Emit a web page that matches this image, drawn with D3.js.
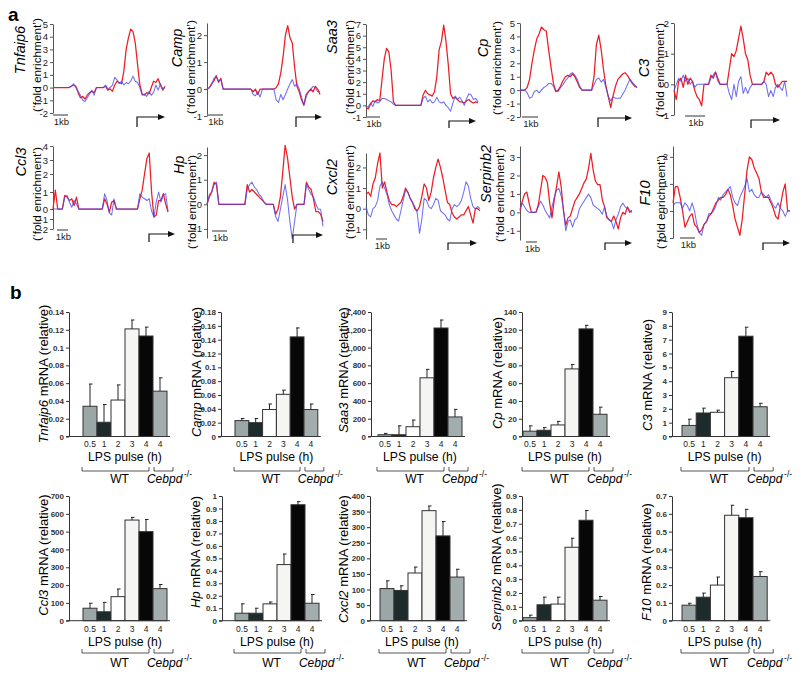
<!DOCTYPE html>
<html><head><meta charset="utf-8">
<script src="https://cdn.jsdelivr.net/npm/d3@7"></script>
<style>body{margin:0;background:#fff} svg{display:block;font-family:"Liberation Sans",Arial,sans-serif}</style>
</head><body>
<svg id="fig" width="800" height="675"></svg>
<script>
// ---------------- Panel a data: ChIP profiles (red = LPS, blue = control), evenly spaced along locus
const tnfaip6Red  = [0,0,0,0,0,0,0,0,0.1,0.2, 0.1,-0.4,-0.8,-0.7,-0.9,-0.6,-0.4,-0.3,-0.4,0, 0,0,0,0.1,-0.2,-0.1,-0.3,0.2,0.5,0.4, 0.3,1.3,3.0,3.9,4.6,4.4,3.5,1.8,0.2,-0.5, -0.6,-0.4,-0.5,0.0,0.5,0.4,0.7,0.2,-0.2,0.1];
const tnfaip6Blue = [0,0,0,0,0,0,0,0,0.1,0.3, 0.0,-0.3,-0.6,-1.0,-1.1,-0.8,-0.5,-0.2,-0.6,0, 0,0,0,0.2,-0.1,0.0,0.2,0.8,0.6,0.3, 0.5,0.2,0.4,0.3,0.5,0.9,0.5,0.4,0.0,-0.6, -0.5,-0.7,-0.3,-0.6,-0.4,0.2,-0.2,0.3,-0.1,0.0];
const campRed  = [0,0.05,0.2,0.3,0.5,0.25,0.4,0,0,0, 0,0,0,0,0,0,0,0,0,0, -0.1,0.0,-0.2,0.0,0,0,0,0,0,0, 0.05,0.2,0.6,1.2,2.0,2.35,1.9,1.7,0.8,0.1, -0.1,-0.4,-0.6,-0.2,-0.1,0.0,-0.1,0.1,0.0,-0.2];
const campBlue = [0,0.05,0.15,0.4,0.45,0.3,0.35,0,0,0, 0,0,0,0,0,0,0,0,0,0, -0.2,-0.25,-0.1,-0.3,0,0,0,0,0,0, -0.4,-0.5,-0.2,-0.4,-0.2,0.0,0.2,0.35,0.1,0.2, 0.0,-0.3,-0.6,-0.3,-0.1,0.0,0.1,0.05,-0.1,-0.1];
const saa3Red  = [-0.2,-0.3,0.1,0.4,0.3,0.5,0.4,2.2,4.0,4.9, 4.6,3.0,0.3,0,0,0,0,0,0,0, 0,0,0,0,0,0.9,1.3,1.0,0.9,0.8, 1.2,2.5,4.8,5.5,6.9,5.5,3.5,1.0,0.6,0.7, 0.5,0.3,0.3,0.2,0.4,0.5,0.3,0.2,0.3,0.2];
const saa3Blue = [-0.2,-0.1,0.2,-0.1,0.4,0.2,0.3,0.6,0.6,0.5, 0.4,0.3,0.1,0,0,0,0,0,0,0, 0,0,0,0,0,0.6,0.8,0.3,0.5,0.2, 0.3,0.7,0.3,0.2,0.3,0.0,-0.2,-0.5,0.2,0.8, 0.5,0.7,0.4,0.0,0.6,1.0,0.9,0.5,0.6,0.3];
const cpRed  = [0,0,0,0.2,0.8,2.0,3.0,3.8,4.2,4.7, 4.5,4.4,3.0,1.7,0.5,-0.1,0.0,0.3,0.7,1.0, 1.1,1.0,1.2,1.0,0.6,0.2,0,0,0,0, 0,1.0,3.4,4.1,3.0,1.5,0.3,-0.5,-1.3,-0.4, 0.3,0.8,1.0,1.2,1.3,1.1,0.8,0.5,0.3,0.2];
const cpBlue = [0,0,0,-0.2,-0.6,-0.5,-0.1,0.0,-0.2,0.0, 0.2,0.3,0.5,0.5,0.3,-0.1,-0.1,0.2,0.4,0.7, 0.9,1.2,1.3,1.1,0.8,0.3,0,0,0,0, 0,0.4,0.8,0.9,0.6,0.8,0.2,-0.5,-0.8,-0.5, -0.6,-0.6,-0.6,-0.3,0.0,0.4,0.8,0.6,0.4,0.2];
const c3Red  = [-0.2,-0.5,0.1,0.2,-0.1,0.3,0.0,0.2,0.1,-0.2, -0.4,-0.5,-0.7,0,0,0,0.3,0.2,0.4,0.2, 0,0,0,0,0.5,1.0,0.9,1.1,1.5,1.9, 1.5,1.0,0.8,0.3,0,0,0,0,0,0.1, 0.4,0.3,0.4,0.3,0.0,-0.1,0.0,0.1,0.1,0.1];
const c3Blue = [-0.2,0.0,0.2,0.1,0.3,0.1,0.2,0.0,0.1,-0.1, 0,0,0,0,0,0,0.2,0.3,0.4,0.1, 0,0,0,0,-0.3,-0.5,0.0,-0.4,0.1,0.25, -0.3,-0.1,-0.3,-0.1,0,0,0,0,0,0.1, 0.0,-0.4,-0.2,-0.4,-0.1,0.0,-0.1,-0.2,0.1,-0.4];
const ccl3Red  = [0,1.1,0,0,0,0.8,0.7,0.5,0.6,0.2, 0.7,0,0,0,0,0,0,0,0,0, 0,0,0.6,0.3,-0.3,0.4,0.5,0,0,0, 0,0,0,0,0,0,0,0.6,1.1,2.0, 3.1,3.5,1.0,-0.8,-0.6,0.5,0.5,0.9,0.3,-0.3];
const ccl3Blue = [0,0,0,0,0,0.7,0.8,0.4,0.1,0.5, 0.3,0,0,0,0,0,0,0,0,0, 0,0,0.9,0.5,-0.4,-0.6,0.6,0,0,0, 0,0,0,0,0,0,0,0.9,0.7,0.6, 0.5,0.6,-0.2,-0.8,0.4,1.0,0.4,0.8,0.9,-0.2];
const hpRed  = [0,0.3,0.5,0.9,0.8,0,0,0,0,0, 0,0,0,0,0,0,0,0.8,0.5,0.6, 0.5,0.4,0.3,0.2,0.1,0,0,0,0,-0.4, -0.2,0.3,1.3,2.4,1.9,1.1,0.3,-0.2,0,0, 0,0,0.9,0.7,0.6,0.2,-0.3,-0.3,-0.4,-0.7];
const hpBlue = [0,0.4,0.5,0.8,0.9,0,0,0,0,0, 0,0,0,0,0,0,0,0.6,0.8,0.9, 0.7,0.6,0.4,0.3,0.1,0,0,0,0,-0.5, -0.7,-0.2,0.3,0.8,0.2,-0.7,-1.4,-0.7,0,0, 0,0,0.8,0.6,0.4,0.3,0.0,-0.2,-0.2,-0.9];
const cxcl2Red  = [0.7,0.8,0.6,1.2,1.5,2.2,2.7,1.0,1.3,0.8, 0.4,0.2,0.2,0.1,0.2,0.3,0.6,1.0,0.8,0.5, 0.3,0.0,-0.1,0.1,0.6,1.2,1.0,0.4,0.8,1.5, 2.0,2.4,2.0,1.5,0.9,0.3,0.2,-0.2,-0.4,-0.5, -0.4,-0.3,-0.3,-0.1,0.1,-0.3,-0.7,0.0,0.0,-0.1];
const cxcl2Blue = [0.1,-0.3,-0.4,0.0,0.1,0.4,1.1,1.3,1.0,0.7, 0.2,-0.1,-0.3,-0.5,-0.6,-0.1,0.4,0.9,0.8,0.5, 0.3,0.1,-0.2,-1.2,-0.5,0.5,0.4,0.1,0.0,0.2, 0.5,0.4,-0.1,-0.2,-0.3,-0.5,-0.6,0.0,0.2,0.1, 0.2,0.4,0.8,1.3,1.1,0.5,0.1,0.0,0.1,0.0];
const serpinb2Red  = [0.1,0.6,1.0,1.1,0.5,0,0,0,0.4,1.2, 2.0,1.9,1.6,0.5,-0.3,0.7,1.4,2.2,1.4,0.1, -0.7,-0.3,-0.2,0.2,0.6,0.8,1.0,1.3,1.6,1.8, 2.4,3.2,2.3,1.7,1.5,1.5,0.7,0.3,-0.3,-0.4, -0.5,-0.2,-0.5,-0.9,-0.3,0.0,-0.1,0.3,0.0,0.1];
const serpinb2Blue = [0.2,0.5,0.3,0.1,0.0,0,0,0,0.3,0.6, 0.4,0.1,-0.1,-0.3,0.3,0.8,1.2,1.3,0.9,0.2, -1.0,-0.5,-0.4,-0.8,-0.4,-0.3,0.2,0.4,0.6,0.8, 1.0,0.8,0.4,0.3,0.2,0.1,-0.1,0.3,-0.2,-0.4, -0.5,-0.9,-0.4,-0.1,0.3,0.5,0.3,0.2,0.1,0.0];
const f10Red  = [0.3,0.9,0.9,0.5,0.0,-0.6,-0.4,-0.2,-0.1,-0.5, -0.6,-0.8,-0.7,-0.5,-0.4,-0.2,-0.1,0.1,0.3,0.4, 0.5,0.5,0.6,0.8,0.6,0.2,-0.3,-0.6,-0.9,-0.3, 0.6,1.5,2.0,1.9,1.6,1.4,1.2,0.7,0.5,0.5, 0.5,0.3,0.1,-0.2,-0.3,0.2,0.7,1.0,0.0,0.0];
const f10Blue = [0.2,0.3,0.3,0.3,0.1,0.3,0.2,0.0,0.3,0.0, -0.5,-0.8,-0.9,-0.5,-0.4,-0.1,-0.1,0.0,0.2,0.5, 0.4,0.6,0.7,0.8,0.9,0.5,0.3,0.2,0.5,0.7, 0.9,1.2,0.7,0.8,0.6,0.5,0.5,0.7,0.6,0.5, 0.6,0.4,0.2,0.1,0.3,0.1,0.0,-0.2,0.0,0.0];

const chipGenes = ["Tnfaip6","Camp","Saa3","Cp","C3","Ccl3","Hp","Cxcl2","Serpinb2","F10"];
const chipTicks = [[-2,-1,0,1,2,3,4,5],[-1,0,1,2],[-1,0,1,2,3,4,5,6,7],[-2,-1,0,1,2,3,4,5],[-1,0,1,2],
                   [-2,-1,0,1,2,3,4],[-1,0,1,2],[-1,0,1,2],[-1,0,1,2,3],[-1,0,1,2]];
const chipDomains = [[-2,5],[-1,2.45],[-1,7],[-2,5],[-1,2],
                     [-2,-1,0,1,2,3,4],[-1.37,2.33],[-1.47,2.7],[-1.5,3.6],[-1,2.4]];
const chipRed  = [tnfaip6Red,campRed,saa3Red,cpRed,c3Red,ccl3Red,hpRed,cxcl2Red,serpinb2Red,f10Red];
const chipBlue = [tnfaip6Blue,campBlue,saa3Blue,cpBlue,c3Blue,ccl3Blue,hpBlue,cxcl2Blue,serpinb2Blue,f10Blue];

// ---------------- Panel b data: qPCR bars
const timeLabels = ["0.5","1","2","3","4","4"];
const barGenes = ["Tnfaip6","Camp","Saa3","Cp","C3","Ccl3","Hp","Cxcl2","Serpinb2","F10"];
const tnfaip6Mean = [0.034,0.016,0.041,0.121,0.113,0.051], tnfaip6Err = [0.025,0.020,0.017,0.010,0.010,0.015];
const campMean = [0.023,0.020,0.039,0.061,0.144,0.039], campErr = [0.003,0.006,0.008,0.006,0.013,0.008];
const saa3Mean = [20,20,110,660,1220,220], saa3Err = [15,100,75,95,90,85];
const cpMean = [6,7,13,76,121,25], cpErr = [6,3,4,5,4,8];
const c3Mean = [0.8,1.7,1.75,4.25,7.25,2.15], c3Err = [0.45,0.35,0.15,0.45,0.65,0.25];
const ccl3Mean = [70,50,135,565,500,180], ccl3Err = [28,53,43,15,68,23];
const hpMean = [0.06,0.06,0.135,0.45,0.93,0.14], hpErr = [0.075,0.04,0.015,0.085,0.025,0.07];
const cxcl2Mean = [103,97,153,353,272,140], cxcl2Err = [25,15,19,15,46,25];
const serpinb2Mean = [0.022,0.115,0.12,0.53,0.725,0.148], serpinb2Err = [0.018,0.055,0.05,0.065,0.07,0.027];
const f10Mean = [0.087,0.132,0.2,0.592,0.578,0.248], f10Err = [0.011,0.023,0.045,0.056,0.047,0.027];
const barMeans = [tnfaip6Mean,campMean,saa3Mean,cpMean,c3Mean,ccl3Mean,hpMean,cxcl2Mean,serpinb2Mean,f10Mean];
const barErrs = [tnfaip6Err,campErr,saa3Err,cpErr,c3Err,ccl3Err,hpErr,cxcl2Err,serpinb2Err,f10Err];
const barTicks = [
  [0,0.02,0.04,0.06,0.08,0.1,0.12,0.14],
  [0,0.02,0.04,0.06,0.08,0.1,0.12,0.14,0.16,0.18],
  [0,200,400,600,800,1000,1200,1400],
  [0,20,40,60,80,100,120,140],
  [0,1,2,3,4,5,6,7,8,9],
  [0,100,200,300,400,500,600,700],
  [0,0.1,0.2,0.3,0.4,0.5,0.6,0.7,0.8,0.9,1],
  [0,50,100,150,200,250,300,350,400],
  [0,0.1,0.2,0.3,0.4,0.5,0.6,0.7,0.8,0.9],
  [0,0.1,0.2,0.3,0.4,0.5,0.6,0.7]
];

// ---------------- layout (positions/styles only)
const chipLayout = [
  {x0:53,x1:165,r:[113,24],gx:20,gy:50,fx:37,fy:65,kb:[53,68,115],ar:[137,165,117,127]},
  {x0:207,x1:320,r:[116,23],gx:177,gy:48,fx:191,fy:67,kb:[207,223,115],ar:[296,322,117,127]},
  {x0:366,x1:478,r:[117,24],gx:332,gy:37,fx:350,fy:67,kb:[366,380,117],ar:[449,476,121,128]},
  {x0:520,x1:637,r:[117,23],gx:483,gy:48,fx:497,fy:68,kb:[522,538,117],ar:[598,632,118,127]},
  {x0:674,x1:787,r:[115,23],gx:644,gy:68,fx:660,fy:70,kb:[685,705,116],ar:[751,780,120,128]},
  {x0:53,x1:168,r:[229,219,209,192,174,160,146],gx:21,gy:162,fx:37,fy:194,kb:[57,68,230],ar:[149,175,234,242]},
  {x0:207,x1:323,r:[238,147],gx:179,gy:165,fx:192,fy:202,kb:[212,227,231],ar:[293,323,235,243]},
  {x0:366,x1:480,r:[239,153],gx:332,gy:177,fx:350,fy:192,kb:[376,387,239],ar:[448,477,243,250]},
  {x0:520,x1:632,r:[240,146],gx:486,gy:174,fx:500,fy:195,kb:[526,537,242],ar:[605,632,243,250]},
  {x0:673,x1:790,r:[238,146],gx:645,gy:193,fx:661,fy:202,kb:[680,695,238],ar:[763,790,243,250]}
];
const barLayout = [
  {ax:69,bx:83,bw:14,row:0,tx:43,ty:374},
  {ax:221,bx:235,bw:13.8,row:0,tx:196,ty:372},
  {ax:371,bx:378,bw:14,row:0,tx:343,ty:370},
  {ax:522,bx:523,bw:14,row:0,tx:497,ty:373},
  {ax:672,bx:682,bw:14.2,row:0,tx:647,ty:375},
  {ax:69,bx:83,bw:14,row:1,tx:43,ty:555},
  {ax:222,bx:235,bw:14,row:1,tx:195,ty:552},
  {ax:370,bx:380,bw:14,row:1,tx:343,ty:559},
  {ax:522,bx:523,bw:14,row:1,tx:496,ty:557},
  {ax:672,bx:682,bw:14.2,row:1,tx:646,ty:562}
];
const rows = [
  {y0:436.5,yTop:312,tickY:444,lpsY:457,brY:471,wtY:479},
  {y0:620.7,yTop:496,tickY:629,lpsY:642,brY:653,wtY:663}
];
const barFills = ["#9ba7a7","#1d2b2c","#ffffff","#f5f5f3","#070707","#a4adad"];

const svg = d3.select("#fig");
svg.append("text").attr("x",8).attr("y",21).attr("font-size",19).attr("font-weight","bold").text("a");
svg.append("text").attr("x",10).attr("y",299).attr("font-size",19).attr("font-weight","bold").text("b");

// ---------------- Panel a
chipGenes.forEach((gene,k)=>{
  const L = chipLayout[k];
  const g = svg.append("g");
  const y = d3.scaleLinear().domain(chipDomains[k]).range(L.r);
  const red = chipRed[k], blue = chipBlue[k];
  const x = d3.scaleLinear().domain([0, red.length-1]).range([L.x0, L.x1]);
  const axis = d3.axisLeft(y).tickValues(chipTicks[k]).tickSize(3).tickSizeOuter(0).tickFormat(d=>String(d));
  const ag = g.append("g").attr("transform",`translate(${L.x0},0)`).call(axis);
  ag.select(".domain").attr("stroke","#555");
  ag.selectAll(".tick line").attr("stroke","#555");
  ag.selectAll(".tick text").attr("font-size",9.5).attr("fill","#222").attr("x",-5).attr("font-family","Liberation Sans, Arial, sans-serif");
  const line = d3.line().x((d,i)=>x(i)).y(d=>y(d));
  g.append("path").datum(red).attr("d",line).attr("fill","none").attr("stroke","#ee1c25").attr("stroke-width",1.25).attr("stroke-linejoin","round");
  g.append("path").datum(blue).attr("d",line).attr("fill","none").attr("stroke","#4646ee").attr("stroke-opacity",0.78).attr("stroke-width",1.05).attr("stroke-linejoin","round");
  // labels
  g.append("text").attr("transform",`translate(${L.gx},${L.gy}) rotate(-90)`).attr("text-anchor","middle")
    .attr("dominant-baseline","central").attr("font-size",14.5).attr("font-style","italic").text(gene);
  g.append("text").attr("transform",`translate(${L.fx},${L.fy}) rotate(-90)`).attr("text-anchor","middle")
    .attr("dominant-baseline","central").attr("font-size",11.8).text("(\u2018fold enrichment\u2019)");
  // 1kb scale
  g.append("line").attr("x1",L.kb[0]).attr("x2",L.kb[1]).attr("y1",L.kb[2]).attr("y2",L.kb[2]).attr("stroke","#777").attr("stroke-width",1.5);
  g.append("text").attr("x",(L.kb[0]+L.kb[1])/2+1).attr("y",L.kb[2]+10).attr("text-anchor","middle").attr("font-size",9.5).attr("fill","#222").text("1kb");
  // TSS arrow
  const [xa,xt,ya,yb] = L.ar;
  g.append("path").attr("d",`M${xa},${yb}V${ya}H${xt-5}`).attr("fill","none").attr("stroke","#111").attr("stroke-width",1.2);
  g.append("path").attr("d",`M${xt},${ya}L${xt-7},${ya-3}L${xt-7},${ya+3}Z`).attr("fill","#111");
});

// ---------------- Panel b
const fmt = v => v >= 1000 ? d3.format(",")(v) : String(v);
barGenes.forEach((gene,k)=>{
  const L = barLayout[k], R = rows[L.row];
  const g = svg.append("g");
  const ticks = barTicks[k];
  const y = d3.scaleLinear().domain([0, ticks[ticks.length-1]]).range([R.y0, R.yTop]);
  const x = d3.scaleBand().domain(d3.range(timeLabels.length)).range([L.bx, L.bx + L.bw*timeLabels.length]).padding(0);
  const means = barMeans[k], errs = barErrs[k];
  // bars
  g.selectAll("rect").data(means).join("rect")
    .attr("x",(d,i)=>x(i)).attr("width",x.bandwidth())
    .attr("y",d=>y(d)).attr("height",d=>R.y0-y(d))
    .attr("fill",(d,i)=>barFills[i]).attr("stroke","#333").attr("stroke-width",1);
  // error bars
  means.forEach((m,i)=>{
    const cx = x(i)+x.bandwidth()/2;
    g.append("line").attr("x1",cx).attr("x2",cx).attr("y1",y(m)).attr("y2",y(m+errs[i])).attr("stroke","#222").attr("stroke-width",1);
    g.append("line").attr("x1",cx-1).attr("x2",cx+2.5).attr("y1",y(m+errs[i])).attr("y2",y(m+errs[i])).attr("stroke","#222").attr("stroke-width",1);
  });
  // axes
  const ay = d3.axisLeft(y).tickValues(ticks).tickSize(3).tickSizeOuter(0).tickFormat(fmt);
  const ag = g.append("g").attr("transform",`translate(${L.ax},0)`).call(ay);
  ag.select(".domain").attr("stroke","#333");
  ag.selectAll(".tick line").attr("stroke","#333");
  ag.selectAll(".tick text").attr("font-size",8).attr("font-weight","bold").attr("fill","#333").attr("x",-5).attr("font-family","Liberation Sans, Arial, sans-serif");
  const xEnd = L.bx + L.bw*timeLabels.length + 3;
  g.append("line").attr("x1",L.ax-3).attr("x2",xEnd).attr("y1",R.y0).attr("y2",R.y0).attr("stroke","#333").attr("stroke-width",1);
  // x labels
  g.selectAll("text.tl").data(timeLabels).join("text").attr("class","tl")
    .attr("x",(d,i)=>x(i)+x.bandwidth()/2).attr("y",R.tickY).attr("dominant-baseline","central")
    .attr("text-anchor","middle").attr("font-size",8.5).attr("fill","#222").text(d=>d);
  const midX = L.bx + L.bw*3;
  g.append("text").attr("x",midX).attr("y",R.lpsY).attr("dominant-baseline","central").attr("text-anchor","middle")
    .attr("font-size",12.2).text("LPS pulse (h)");
  // brackets
  const w0 = L.bx - 1, w1 = L.bx + L.bw*5 - 4, k0 = L.bx + L.bw*5 + 1, k1 = L.bx + L.bw*6 + 6;
  const br = (a,b)=>`M${a},${R.brY-4}V${R.brY}H${b}V${R.brY-4}`;
  g.append("path").attr("d",br(w0,w1)).attr("fill","none").attr("stroke","#444").attr("stroke-width",0.9);
  g.append("path").attr("d",br(k0,k1)).attr("fill","none").attr("stroke","#444").attr("stroke-width",0.9);
  g.append("text").attr("x",(w0+w1)/2+4).attr("y",R.wtY).attr("dominant-baseline","central").attr("text-anchor","middle")
    .attr("font-size",12).text("WT");
  const ko = g.append("text").attr("x",(k0+k1)/2+6).attr("y",R.wtY).attr("dominant-baseline","central").attr("text-anchor","middle")
    .attr("font-size",12);
  ko.append("tspan").attr("font-style","italic").text("Cebpd");
  ko.append("tspan").attr("font-size",8.5).attr("dy",-5).text("\u2009-/-");
  // y title
  const t = g.append("text").attr("transform",`translate(${L.tx},${L.ty}) rotate(-90)`).attr("text-anchor","middle")
    .attr("dominant-baseline","central").attr("font-size",13);
  t.append("tspan").attr("font-style","italic").text(gene);
  t.append("tspan").text(" mRNA (relative)");
});
</script></body></html>
